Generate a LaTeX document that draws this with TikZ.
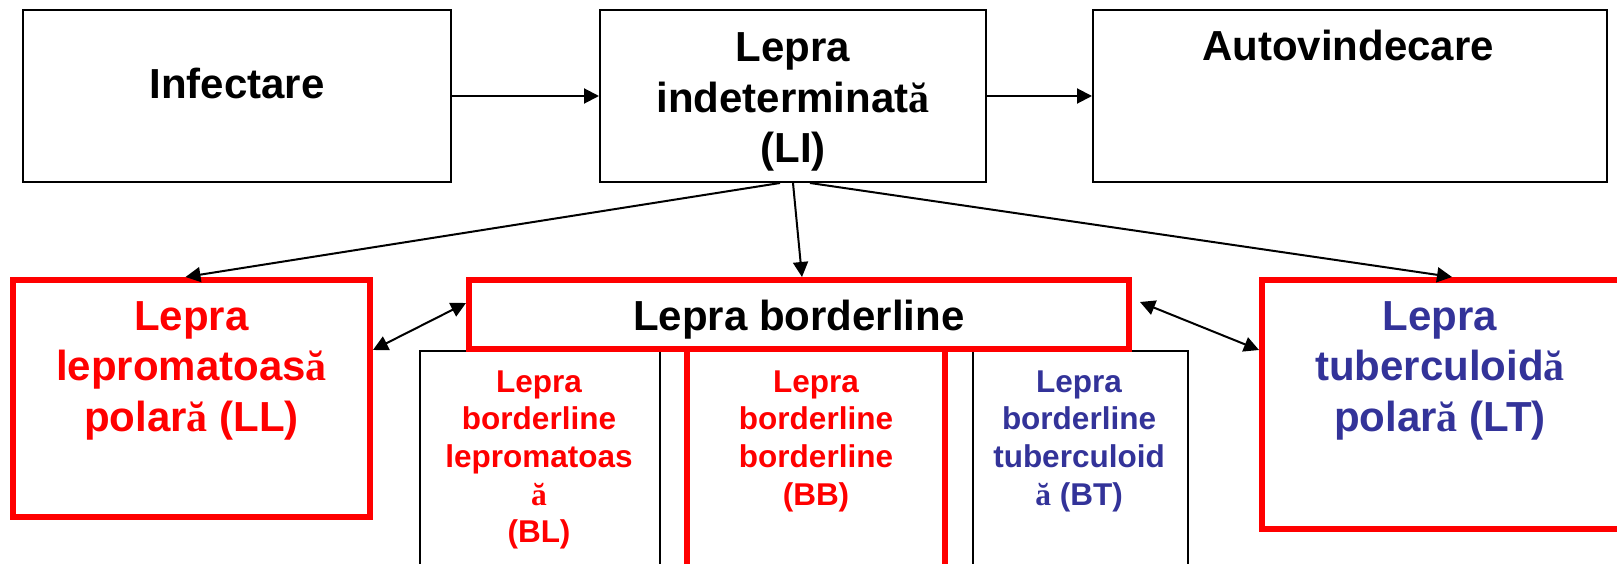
\documentclass[tikz,border=0pt]{standalone}
\usepackage{fontspec}
\setmainfont{Liberation Sans}
\newfontfamily\tnrfont{Liberation Serif}
\usetikzlibrary{arrows.meta}
\definecolor{pptred}{RGB}{255,0,0}
\definecolor{pptblue}{RGB}{51,51,153}
\newcommand{\abr}{{\tnrfont\bfseries ă}}
\newcommand{\bigtxt}{\fontsize{42}{50.5}\selectfont\bfseries}
\newcommand{\smtxt}{\fontsize{31.5}{37.7}\selectfont\bfseries}
\begin{document}
\begin{tikzpicture}[x=1pt,y=-1pt,
  blackbox/.style={draw=black,line width=2pt,rectangle,inner sep=0pt,fill=white},
  redbox/.style={draw=pptred,line width=6pt,rectangle,inner sep=0pt,fill=white},
  thinbox/.style={draw=black,line width=1.5pt,rectangle,inner sep=0pt,fill=white},
  lbl/.style={anchor=base,inner sep=0pt,outer sep=0pt},
  arr/.style={line width=2pt,-{Triangle[length=15pt,width=15pt]}},
  darr/.style={line width=2pt,{Triangle[length=15pt,width=15pt]}-{Triangle[length=15pt,width=15pt]}}]
\useasboundingbox (0,0) rectangle (1617,564);
\clip (0,0) rectangle (1617,564);
\fill[white] (0,0) rectangle (1617,564);
% top row
\node[blackbox,minimum width=428pt,minimum height=172pt] (inf) at (237,96) {};
\node[blackbox,minimum width=386pt,minimum height=172pt] (li) at (793,96) {};
\node[blackbox,minimum width=514pt,minimum height=172pt] (auto) at (1350,96) {};
% sub boxes
\node[thinbox,minimum width=240pt,minimum height=269pt] (bl) at (540,485.5) {};
\node[thinbox,minimum width=215pt,minimum height=269pt] (bt) at (1080.5,485.5) {};
\node[redbox,minimum width=258pt,minimum height=271pt] (bb) at (816,484.5) {};
% red boxes
\node[redbox,minimum width=660pt,minimum height=69pt] (bord) at (799,314.5) {};
\node[redbox,minimum width=357pt,minimum height=237pt] (ll) at (191.5,398.5) {};
\node[redbox,minimum width=358pt,minimum height=249pt] (lt) at (1441,404.5) {};
% labels
\node[lbl] (tinf) at (237,99) {\bigtxt Infectare};
\node[lbl] (tli) at (793,61.7) {\bigtxt\begin{tabular}[t]{@{}c@{}}Lepra\\ indeterminat\abr\\ (LI)\end{tabular}};
\node[lbl] (tauto) at (1348,61) {\bigtxt Autovindecare};
\node[lbl,text=pptred] (tll) at (191.5,330) {\bigtxt\begin{tabular}[t]{@{}c@{}}Lepra\\ lepromatoas\abr\\ polar\abr{} (LL)\end{tabular}};
\node[lbl] (tbord) at (799,330) {\bigtxt Lepra borderline};
\node[lbl,text=pptblue] (tlt) at (1440,330) {\bigtxt\begin{tabular}[t]{@{}c@{}}Lepra\\ tuberculoid\abr\\ polar\abr{} (LT)\end{tabular}};
\node[lbl,text=pptred] (tbl) at (539,392) {\smtxt\begin{tabular}[t]{@{}c@{}}Lepra\\ borderline\\ lepromatoas\\ \abr\\ (BL)\end{tabular}};
\node[lbl,text=pptred] (tbb) at (816,392) {\smtxt\begin{tabular}[t]{@{}c@{}}Lepra\\ borderline\\ borderline\\ (BB)\end{tabular}};
\node[lbl,text=pptblue] (tbt) at (1079,392) {\smtxt\begin{tabular}[t]{@{}c@{}}Lepra\\ borderline\\ tuberculoid\\ \abr{} (BT)\end{tabular}};
% connectors
\draw[arr] (inf) -- (li);
\draw[arr] (li) -- (auto);
\draw[arr] ([xshift=-13pt]li.south) -- ([xshift=-6pt]ll.north);
\draw[arr] (li.south) -- ([xshift=3pt]bord.north);
\draw[arr] ([xshift=17pt]li.south) -- ([xshift=11pt]lt.north);
\draw[darr] ([yshift=48.5pt]ll.east) -- ([yshift=11.5pt]bord.west);
\draw[darr] ([xshift=8pt,yshift=12.5pt]bord.east) -- ([yshift=54.5pt]lt.west);
\end{tikzpicture}
\end{document}
